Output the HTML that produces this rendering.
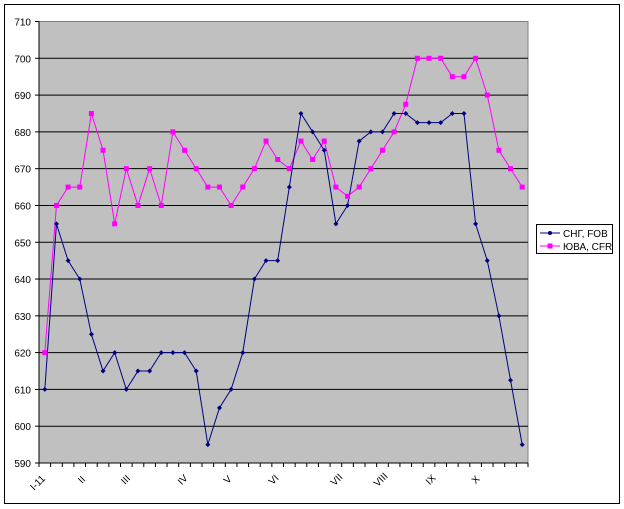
<!DOCTYPE html>
<html><head><meta charset="utf-8"><style>body{margin:0;background:#fff}svg{display:block}text{font-family:"Liberation Sans",Arial,sans-serif;font-size:10px;fill:#000}</style></head>
<body>
<svg width="624" height="509" viewBox="0 0 624 509">
<rect x="4.5" y="4.5" width="615" height="499" fill="#fff" stroke="#000" stroke-width="1"/>
<rect x="39" y="21.5" width="489" height="441.5" fill="#c0c0c0" stroke="#808080"/>
<g id="grid"></g>
<g id="ylab"></g>
<g id="xt"></g>
<g id="lines"></g>
<g font-size="9">
<text transform="translate(40,485) rotate(-45)" text-anchor="middle">I-11</text>
<text transform="translate(84,482) rotate(-45)" text-anchor="middle">II</text>
<text transform="translate(128,482) rotate(-45)" text-anchor="middle">III</text>
<text transform="translate(185,482) rotate(-45)" text-anchor="middle">IV</text>
<text transform="translate(230,482) rotate(-45)" text-anchor="middle">V</text>
<text transform="translate(276,482) rotate(-45)" text-anchor="middle">VI</text>
<text transform="translate(339,482) rotate(-45)" text-anchor="middle">VII</text>
<text transform="translate(383,482) rotate(-45)" text-anchor="middle">VIII</text>
<text transform="translate(433,482) rotate(-45)" text-anchor="middle">IX</text>
<text transform="translate(478,482) rotate(-45)" text-anchor="middle">X</text>
</g>
<rect x="536.5" y="224.5" width="76" height="29" fill="#fff" stroke="#000"/>
<line x1="540" y1="233" x2="560" y2="233" stroke="#000080"/><circle cx="550" cy="233" r="2" fill="#000080"/>
<text x="563" y="237" font-size="9">СНГ, FOB</text>
<line x1="540" y1="246" x2="560" y2="246" stroke="#ff00ff"/><rect x="547.5" y="243.5" width="5" height="5" fill="#ff00ff"/>
<text x="563" y="250" font-size="9">ЮВА, CFR</text>
</svg>
<script>
const ns="http://www.w3.org/2000/svg";
function el(p,t,a){const e=document.createElementNS(ns,t);for(const k in a)e.setAttribute(k,a[k]);document.getElementById(p).appendChild(e);return e;}
const Y=v=>21.5+(710-v)*441.5/120;
for(let v=590;v<=710;v+=10){const y=Y(v);if(v>590&&v<710)el("grid","line",{x1:39,x2:528,y1:y,y2:y,stroke:"#000"});
el("grid","line",{x1:35,x2:39,y1:y,y2:y,stroke:"#000"});
const t=el("ylab","text",{x:31,y:y+4,"text-anchor":"end"});t.textContent=v;}
el("grid","line",{x1:39,x2:39,y1:21.5,y2:463,stroke:"#000"});
el("grid","line",{x1:39,x2:528,y1:463,y2:463,stroke:"#000"});
const w=489/42;
for(let i=0;i<=42;i++){const x=39+i*w;el("xt","line",{x1:x,x2:x,y1:463,y2:467,stroke:"#000"});}
const b=[610,655,645,640,625,615,620,610,615,615,620,620,620,615,595,605,610,620,640,645,645,665,685,680,675,655,660,677.5,680,680,685,685,682.5,682.5,682.5,685,685,655,645,630,612.5,595];
const p=[620,660,665,665,685,675,655,670,660,670,660,680,675,670,665,665,660,665,670,677.5,672.5,670,677.5,672.5,677.5,665,662.5,665,670,675,680,687.5,700,700,700,695,695,700,690,675,670,665];
const X=i=>39+w/2+i*w;
el("lines","polyline",{points:p.map((v,i)=>X(i)+","+Y(v)).join(" "),fill:"none",stroke:"#ff00ff"});
el("lines","polyline",{points:b.map((v,i)=>X(i)+","+Y(v)).join(" "),fill:"none",stroke:"#000080"});
p.forEach((v,i)=>el("lines","rect",{x:X(i)-2.5,y:Y(v)-2.5,width:5,height:5,fill:"#ff00ff"}));
b.forEach((v,i)=>el("lines","path",{d:`M${X(i)-2.5},${Y(v)}L${X(i)},${Y(v)-2.5}L${X(i)+2.5},${Y(v)}L${X(i)},${Y(v)+2.5}Z`,fill:"#000080"}));
</script>
</body></html>
